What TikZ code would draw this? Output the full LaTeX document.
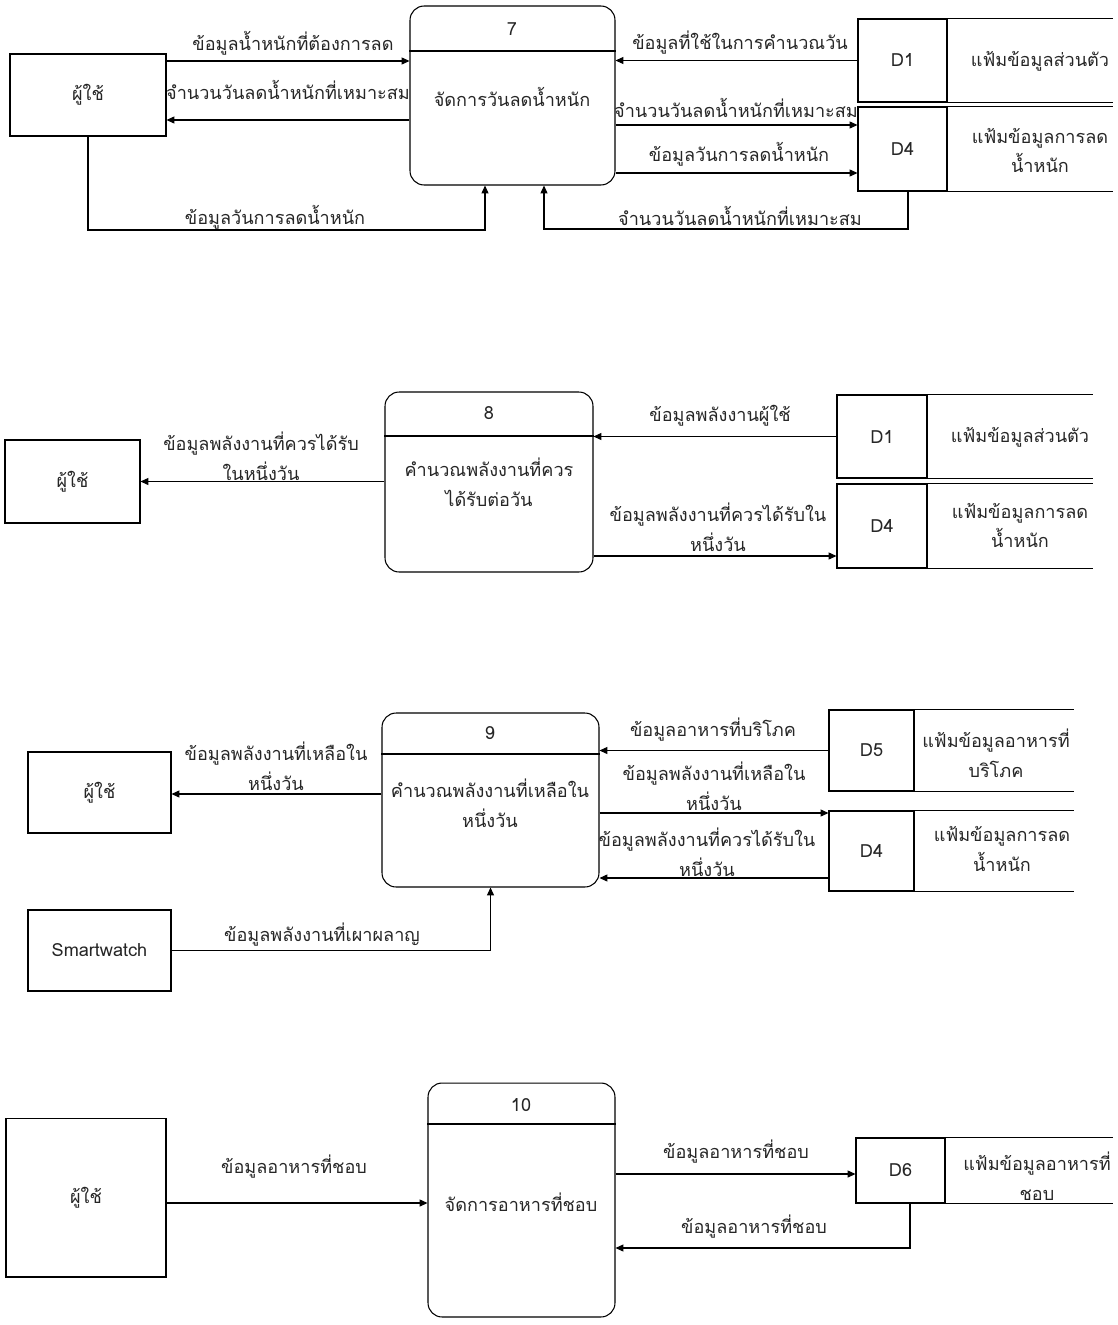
\documentclass[tikz,border=0pt]{standalone}
\usepackage{fontspec}
\setmainfont[Script=Thai]{Loma}
\usetikzlibrary{arrows.meta}
\begin{document}
\begin{tikzpicture}[x=0.02cm, y=-0.02cm, line width=0.6pt,
  every node/.style={font=\fontsize{10.3}{17}\selectfont, text=black!85},
  ent/.style={draw, inner sep=0pt},
  proc/.style={draw, rounded corners=8pt, inner sep=0pt},
  cell/.style={draw, inner sep=0pt},
  lbl/.style={align=center, inner sep=0pt},
  flow/.style={-{Triangle[length=4.5pt,width=4pt]}}]
\path[use as bounding box, fill=white] (0,0) rectangle (1118,1325);
% process 7
\node[ent, minimum width=3.12cm, minimum height=1.64cm] (u1) at (88,95) {ผู้ใช้};
\node[proc, minimum width=4.1cm, minimum height=3.58cm] (p7) at (512.5,95.5) {};
\draw (p7.west |- 0,51) -- (p7.east |- 0,51);
\node (p7n) at (512,29) {7};
\node (p7t) at (512,97) {จัดการวันลดน้ำหนัก};
\node[cell, minimum width=1.78cm, minimum height=1.66cm] (s11) at (902.5,60.5) {D1};
\draw (s11.north east) -- (s11.north east -| 1113,0);
\draw (s11.south east) -- (s11.south east -| 1113,0);
\node (s11t) at (1040,61) {แฟ้มข้อมูลส่วนตัว};
\node[cell, minimum width=1.78cm, minimum height=1.68cm] (s14) at (902.5,149) {D4};
\draw (s14.north east) -- (s14.north east -| 1113,0);
\draw (s14.south east) -- (s14.south east -| 1113,0);
\node[lbl] (s14t) at (1040,150.5) {แฟ้มข้อมูลการลด\\น้ำหนัก};
\draw[flow] (u1.east |- 0,61) -- (p7.west |- 0,61);
\node[lbl] (l1) at (293,43) {ข้อมูลน้ำหนักที่ต้องการลด};
\draw[flow] (p7.west |- 0,120) -- (u1.east |- 0,120);
\node[lbl] (l2) at (288,90) {จำนวนวันลดน้ำหนักที่เหมาะสม};
\coordinate (k1) at (485,230);
\draw[flow] (u1.south) |- (k1) -- (k1 |- p7.south);
\node[lbl] (l3) at (275,217) {ข้อมูลวันการลดน้ำหนัก};
\draw[flow] (s11.west) -- (p7.east |- s11.west);
\node[lbl] (l4) at (740,43) {ข้อมูลที่ใช้ในการคำนวณวัน};
\draw[flow] (p7.east |- 0,125) -- (s14.west |- 0,125);
\node[lbl] (l5) at (736,108) {จำนวนวันลดน้ำหนักที่เหมาะสม};
\draw[flow] (p7.east |- 0,173) -- (s14.west |- 0,173);
\node[lbl] (l6) at (739,154) {ข้อมูลวันการลดน้ำหนัก};
\coordinate (k2) at (908,229);
\coordinate (k3) at (544,229);
\draw[flow] (k2 |- s14.south) -- (k2) -- (k3) -- (k3 |- p7.south);
\node[lbl] (l7) at (740,216) {จำนวนวันลดน้ำหนักที่เหมาะสม};
% process 8
\node[ent, minimum width=2.7cm, minimum height=1.66cm] (u2) at (72.5,481.5) {ผู้ใช้};
\node[proc, minimum width=4.16cm, minimum height=3.6cm] (p8) at (489,482) {};
\draw (p8.west |- 0,436) -- (p8.east |- 0,436);
\node (p8n) at (489,413) {8};
\node[lbl] (p8t) at (489,482) {คำนวณพลังงานที่ควร\\ได้รับต่อวัน};
\node[cell, minimum width=1.8cm, minimum height=1.66cm] (s21) at (882,436.5) {D1};
\draw (s21.north east) -- (s21.north east -| 1093,0);
\draw (s21.south east) -- (s21.south east -| 1093,0);
\node (s21t) at (1020,437) {แฟ้มข้อมูลส่วนตัว};
\node[cell, minimum width=1.8cm, minimum height=1.68cm] (s24) at (882,526) {D4};
\draw (s24.north east) -- (s24.north east -| 1093,0);
\draw (s24.south east) -- (s24.south east -| 1093,0);
\node[lbl] (s24t) at (1020,525.5) {แฟ้มข้อมูลการลด\\น้ำหนัก};
\draw[flow] (p8.west |- u2.east) -- (u2.east);
\node[lbl] (l8) at (261,456) {ข้อมูลพลังงานที่ควรได้รับ\\ในหนึ่งวัน};
\draw[flow] (s21.west) -- (p8.east |- s21.west);
\node[lbl] (l9) at (720,416) {ข้อมูลพลังงานผู้ใช้};
\draw[flow] (p8.east |- 0,556) -- (s24.west |- 0,556);
\node[lbl] (l10) at (718,527.5) {ข้อมูลพลังงานที่ควรได้รับใน\\หนึ่งวัน};
% process 9
\node[ent, minimum width=2.86cm, minimum height=1.62cm] (u3) at (99.5,792.5) {ผู้ใช้};
\node[ent, minimum width=2.86cm, minimum height=1.62cm] (sw) at (99.5,950.5) {Smartwatch};
\node[proc, minimum width=4.34cm, minimum height=3.48cm] (p9) at (490.5,800) {};
\draw (p9.west |- 0,754) -- (p9.east |- 0,754);
\node (p9n) at (490,733) {9};
\node[lbl] (p9t) at (490,803) {คำนวณพลังงานที่เหลือใน\\หนึ่งวัน};
\node[cell, minimum width=1.7cm, minimum height=1.62cm] (s35) at (871.5,750.5) {D5};
\draw (s35.north east) -- (s35.north east -| 1074,0);
\draw (s35.south east) -- (s35.south east -| 1074,0);
\node[lbl] (s35t) at (996,753.5) {แฟ้มข้อมูลอาหารที่\\บริโภค};
\node[cell, minimum width=1.7cm, minimum height=1.6cm] (s34) at (871.5,851) {D4};
\draw (s34.north east) -- (s34.north east -| 1074,0);
\draw (s34.south east) -- (s34.south east -| 1074,0);
\node[lbl] (s34t) at (1002,849) {แฟ้มข้อมูลการลด\\น้ำหนัก};
\draw[flow] (p9.west |- 0,794) -- (u3.east |- 0,794);
\node[lbl] (l11) at (276,766.5) {ข้อมูลพลังงานที่เหลือใน\\หนึ่งวัน};
\draw[flow] (sw.east) -| (p9.south);
\node[lbl] (l12) at (322,935) {ข้อมูลพลังงานที่เผาผลาญ};
\draw[flow] (s35.west) -- (p9.east |- s35.west);
\node[lbl] (l13) at (713,730) {ข้อมูลอาหารที่บริโภค};
\draw[flow] (p9.east |- 0,813) -- (s34.west |- 0,813);
\node[lbl] (l14) at (714,786) {ข้อมูลพลังงานที่เหลือใน\\หนึ่งวัน};
\draw[flow] (s34.west |- 0,878) -- (p9.east |- 0,878);
\node[lbl] (l15) at (707,852.5) {ข้อมูลพลังงานที่ควรได้รับใน\\หนึ่งวัน};
% process 10
\node[ent, minimum width=3.2cm, minimum height=3.18cm] (u4) at (86,1197.5) {ผู้ใช้};
\node[proc, minimum width=3.74cm, minimum height=4.68cm] (p10) at (521.5,1200) {};
\draw (p10.west |- 0,1124) -- (p10.east |- 0,1124);
\node (p10n) at (521,1105) {10};
\node (p10t) at (521,1202) {จัดการอาหารที่ชอบ};
\node[cell, minimum width=1.78cm, minimum height=1.3cm] (s46) at (900.5,1170.5) {D6};
\draw (s46.north east) -- (s46.north east -| 1113,0);
\draw (s46.south east) -- (s46.south east -| 1113,0);
\node[lbl] (s46t) at (1037,1176) {แฟ้มข้อมูลอาหารที่\\ชอบ};
\draw[flow] (u4.east |- 0,1203) -- (p10.west |- 0,1203);
\node[lbl] (l16) at (294,1167) {ข้อมูลอาหารที่ชอบ};
\draw[flow] (p10.east |- 0,1174) -- (s46.west |- 0,1174);
\node[lbl] (l17) at (736,1152) {ข้อมูลอาหารที่ชอบ};
\coordinate (k4) at (910,1248);
\draw[flow] (k4 |- s46.south) -- (k4) -- (p10.east |- k4);
\node[lbl] (l18) at (754,1227) {ข้อมูลอาหารที่ชอบ};
\end{tikzpicture}
\end{document}
